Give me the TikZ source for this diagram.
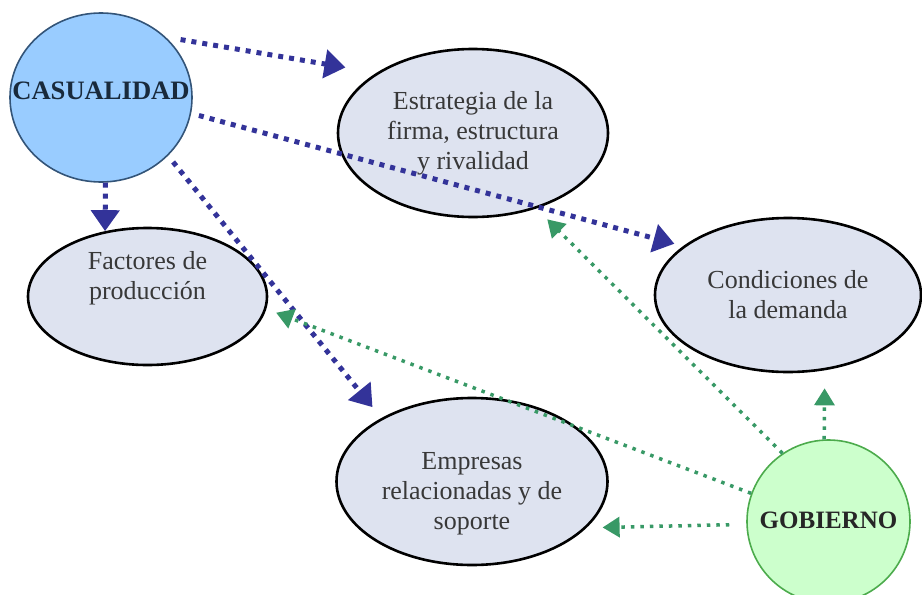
\documentclass[tikz,border=0pt]{standalone}
\usepackage{fontspec}
\setmainfont{Liberation Serif}
\usetikzlibrary{arrows.meta,shapes.geometric}
\definecolor{ttttaa}{rgb}{0.2,0.2,0.6}
\definecolor{ttzzww}{rgb}{0.22,0.6,0.4}
\definecolor{zzccff}{rgb}{0.6,0.8,1}
\definecolor{ttuuww}{rgb}{0.2,0.33,0.47}
\definecolor{ccffcc}{rgb}{0.8,1,0.8}
\definecolor{wwaaww}{rgb}{0.3,0.67,0.3}
\definecolor{ddeeee}{rgb}{0.87,0.89,0.94}
\definecolor{tttttt}{rgb}{0.22,0.22,0.22}
\begin{document}
\begin{tikzpicture}[line join=round,x=0.5pt,y=-0.5pt,>={Triangle[length=10.5pt,width=14pt]},
  elli/.style={ellipse,draw=black,line width=1.3pt,fill=ddeeee,text=tttttt,align=center,inner sep=0pt,font=\fontsize{13}{15}\selectfont},
  bluearr/.style={->,color=ttttaa,line width=2.5pt,dash pattern=on 2.5pt off 3pt},
  greenarr/.style={-{Triangle[length=8.5pt,width=10pt]},color=ttzzww,line width=1.75pt,dash pattern=on 1.75pt off 3pt}]
      \useasboundingbox (0,0) rectangle (922,595);
      \node[ellipse,draw=ttuuww,line width=0.8pt,fill=zzccff,minimum width=91pt,minimum height=84.5pt,inner sep=0pt,text height=1.5pt,text depth=0pt,text=ttuuww!50!black,font=\fontsize{13.3}{15}\selectfont\bfseries] (cas) at (101,97.5) {\makebox[0pt]{CASUALIDAD}};
      \node[circle,draw=wwaaww,line width=0.8pt,fill=ccffcc,minimum size=81.5pt,inner sep=0pt,text height=6.5pt,text depth=0pt,text=black!85,font=\fontsize{12.5}{15}\selectfont\bfseries] (gob) at (828.5,521.5) {\makebox[0pt]{GOBIERNO}};
      \node[elli,minimum width=135pt,minimum height=84pt] (estr) at (473,133) {Estrategia de la\\firma, estructura\\y rivalidad};
      \node[elli,minimum width=119.5pt,minimum height=68.5pt] (fact) at (147.5,296.5) {Factores de\\producción\\[6pt]\mbox{}};
      \node[elli,minimum width=133pt,minimum height=77pt] (cond) at (788,295) {Condiciones de\\la demanda};
      \node[elli,minimum width=135.5pt,minimum height=83.5pt] (emp) at (472,481.5) {\mbox{}\\[5.5pt]Empresas\\relacionadas y de\\soporte};
      \foreach \a/\b/\s/\e in {43/estr.148/7.5pt/15.75pt,-10/cond.155/4pt/4.5pt,-87/fact.123/0pt/0pt,-41/emp.145/4pt/7pt}
      \draw[bluearr,shorten <=\s,shorten >=\e] (cas.\a) -- (\b);
      \foreach \a/\b/\s/\e in {124/estr.-50/0pt/7.65pt,160/fact.-6/0pt/5.25pt,182/emp.-22/8.5pt/8pt,93/cond.-64/0pt/9pt}
      \draw[greenarr,shorten <=\s,shorten >=\e] (gob.\a) -- (\b);
    \end{tikzpicture}
\end{document}
